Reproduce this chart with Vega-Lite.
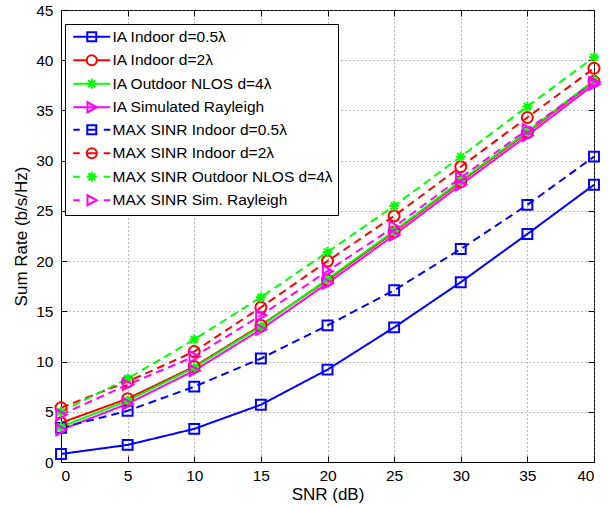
{
  "$schema": "https://vega.github.io/schema/vega-lite/v6.json",
  "width": 533,
  "height": 452,
  "autosize": "none",
  "padding": {"left": 61, "top": 10, "right": 15, "bottom": 44},
  "background": "white",
  "config": {
    "view": {"stroke": "black", "strokeWidth": 1},
    "font": "Liberation Sans",
    "axis": {
      "labelFont": "Liberation Sans",
      "labelFontSize": 15.5,
      "labelColor": "black",
      "titleFont": "Liberation Sans",
      "titleFontSize": 17,
      "titleFontWeight": "normal",
      "titleColor": "black",
      "domainColor": "black",
      "tickColor": "black",
      "tickWidth": 1,
      "gridColor": "#777777",
      "gridDash": [1, 3],
      "gridOpacity": 1
    },
    "legend": {
      "title": null,
      "titleFontSize": 0,
      "titlePadding": 0,
      "orient": "none",
      "legendX": 4,
      "legendY": 14,
      "padding": 5,
      "strokeColor": "black",
      "fillColor": "white",
      "symbolSize": 100,
      "symbolStrokeWidth": 2,
      "symbolOffset": 14,
      "labelOffset": 13,
      "rowPadding": 4.5,
      "labelFont": "Liberation Sans",
      "labelFontSize": 15.5,
      "labelColor": "black",
      "labelLimit": 400
    }
  },
  "data": {
    "values": [
      {"snr": 0, "rate": 0.8, "series": "IA Indoor d=0.5λ"},
      {"snr": 5, "rate": 1.7, "series": "IA Indoor d=0.5λ"},
      {"snr": 10, "rate": 3.3, "series": "IA Indoor d=0.5λ"},
      {"snr": 15, "rate": 5.7, "series": "IA Indoor d=0.5λ"},
      {"snr": 20, "rate": 9.2, "series": "IA Indoor d=0.5λ"},
      {"snr": 25, "rate": 13.4, "series": "IA Indoor d=0.5λ"},
      {"snr": 30, "rate": 17.9, "series": "IA Indoor d=0.5λ"},
      {"snr": 35, "rate": 22.7, "series": "IA Indoor d=0.5λ"},
      {"snr": 40, "rate": 27.6, "series": "IA Indoor d=0.5λ"},
      {"snr": 0, "rate": 3.9, "series": "IA Indoor d=2λ"},
      {"snr": 5, "rate": 6.3, "series": "IA Indoor d=2λ"},
      {"snr": 10, "rate": 9.5, "series": "IA Indoor d=2λ"},
      {"snr": 15, "rate": 13.6, "series": "IA Indoor d=2λ"},
      {"snr": 20, "rate": 18.1, "series": "IA Indoor d=2λ"},
      {"snr": 25, "rate": 22.9, "series": "IA Indoor d=2λ"},
      {"snr": 30, "rate": 27.9, "series": "IA Indoor d=2λ"},
      {"snr": 35, "rate": 32.8, "series": "IA Indoor d=2λ"},
      {"snr": 40, "rate": 37.9, "series": "IA Indoor d=2λ"},
      {"snr": 0, "rate": 3.5, "series": "IA Outdoor NLOS d=4λ"},
      {"snr": 5, "rate": 6.1, "series": "IA Outdoor NLOS d=4λ"},
      {"snr": 10, "rate": 9.4, "series": "IA Outdoor NLOS d=4λ"},
      {"snr": 15, "rate": 13.5, "series": "IA Outdoor NLOS d=4λ"},
      {"snr": 20, "rate": 18.2, "series": "IA Outdoor NLOS d=4λ"},
      {"snr": 25, "rate": 23.0, "series": "IA Outdoor NLOS d=4λ"},
      {"snr": 30, "rate": 28.0, "series": "IA Outdoor NLOS d=4λ"},
      {"snr": 35, "rate": 32.9, "series": "IA Outdoor NLOS d=4λ"},
      {"snr": 40, "rate": 38.0, "series": "IA Outdoor NLOS d=4λ"},
      {"snr": 0, "rate": 3.2, "series": "IA Simulated Rayleigh"},
      {"snr": 5, "rate": 5.8, "series": "IA Simulated Rayleigh"},
      {"snr": 10, "rate": 9.1, "series": "IA Simulated Rayleigh"},
      {"snr": 15, "rate": 13.2, "series": "IA Simulated Rayleigh"},
      {"snr": 20, "rate": 17.8, "series": "IA Simulated Rayleigh"},
      {"snr": 25, "rate": 22.6, "series": "IA Simulated Rayleigh"},
      {"snr": 30, "rate": 27.6, "series": "IA Simulated Rayleigh"},
      {"snr": 35, "rate": 32.5, "series": "IA Simulated Rayleigh"},
      {"snr": 40, "rate": 37.6, "series": "IA Simulated Rayleigh"},
      {"snr": 0, "rate": 3.4, "series": "MAX SINR Indoor d=0.5λ"},
      {"snr": 5, "rate": 5.1, "series": "MAX SINR Indoor d=0.5λ"},
      {"snr": 10, "rate": 7.5, "series": "MAX SINR Indoor d=0.5λ"},
      {"snr": 15, "rate": 10.3, "series": "MAX SINR Indoor d=0.5λ"},
      {"snr": 20, "rate": 13.6, "series": "MAX SINR Indoor d=0.5λ"},
      {"snr": 25, "rate": 17.1, "series": "MAX SINR Indoor d=0.5λ"},
      {"snr": 30, "rate": 21.2, "series": "MAX SINR Indoor d=0.5λ"},
      {"snr": 35, "rate": 25.6, "series": "MAX SINR Indoor d=0.5λ"},
      {"snr": 40, "rate": 30.4, "series": "MAX SINR Indoor d=0.5λ"},
      {"snr": 0, "rate": 5.4, "series": "MAX SINR Indoor d=2λ"},
      {"snr": 5, "rate": 8.0, "series": "MAX SINR Indoor d=2λ"},
      {"snr": 10, "rate": 11.0, "series": "MAX SINR Indoor d=2λ"},
      {"snr": 15, "rate": 15.4, "series": "MAX SINR Indoor d=2λ"},
      {"snr": 20, "rate": 20.0, "series": "MAX SINR Indoor d=2λ"},
      {"snr": 25, "rate": 24.5, "series": "MAX SINR Indoor d=2λ"},
      {"snr": 30, "rate": 29.4, "series": "MAX SINR Indoor d=2λ"},
      {"snr": 35, "rate": 34.3, "series": "MAX SINR Indoor d=2λ"},
      {"snr": 40, "rate": 39.2, "series": "MAX SINR Indoor d=2λ"},
      {"snr": 0, "rate": 5.0, "series": "MAX SINR Outdoor NLOS d=4λ"},
      {"snr": 5, "rate": 8.3, "series": "MAX SINR Outdoor NLOS d=4λ"},
      {"snr": 10, "rate": 12.2, "series": "MAX SINR Outdoor NLOS d=4λ"},
      {"snr": 15, "rate": 16.4, "series": "MAX SINR Outdoor NLOS d=4λ"},
      {"snr": 20, "rate": 20.9, "series": "MAX SINR Outdoor NLOS d=4λ"},
      {"snr": 25, "rate": 25.5, "series": "MAX SINR Outdoor NLOS d=4λ"},
      {"snr": 30, "rate": 30.4, "series": "MAX SINR Outdoor NLOS d=4λ"},
      {"snr": 35, "rate": 35.4, "series": "MAX SINR Outdoor NLOS d=4λ"},
      {"snr": 40, "rate": 40.3, "series": "MAX SINR Outdoor NLOS d=4λ"},
      {"snr": 0, "rate": 4.7, "series": "MAX SINR Sim. Rayleigh"},
      {"snr": 5, "rate": 7.7, "series": "MAX SINR Sim. Rayleigh"},
      {"snr": 10, "rate": 10.5, "series": "MAX SINR Sim. Rayleigh"},
      {"snr": 15, "rate": 14.6, "series": "MAX SINR Sim. Rayleigh"},
      {"snr": 20, "rate": 19.0, "series": "MAX SINR Sim. Rayleigh"},
      {"snr": 25, "rate": 23.4, "series": "MAX SINR Sim. Rayleigh"},
      {"snr": 30, "rate": 28.3, "series": "MAX SINR Sim. Rayleigh"},
      {"snr": 35, "rate": 33.1, "series": "MAX SINR Sim. Rayleigh"},
      {"snr": 40, "rate": 37.8, "series": "MAX SINR Sim. Rayleigh"}
    ]
  },
  "resolve": {"axis": {"x": "independent", "y": "independent"}},
  "layer": [
    {
      "mark": {"type": "line", "strokeWidth": 2},
      "encoding": {
        "x": {"field": "snr", "type": "quantitative", "scale": {"domain": [0, 40], "nice": false},
              "axis": {"orient": "bottom", "values": [0,5,10,15,20,25,30,35,40], "grid": true, "ticks": false, "labelPadding": 6, "title": "SNR (dB)", "titlePadding": 3}},
        "y": {"field": "rate", "type": "quantitative", "scale": {"domain": [0, 45], "nice": false},
              "axis": {"orient": "left", "values": [0,5,10,15,20,25,30,35,40,45], "grid": true, "ticks": false, "labelPadding": 8, "title": "Sum Rate (b/s/Hz)", "titlePadding": 5}},
        "color": {"field": "series", "type": "nominal",
                  "scale": {"domain": ["IA Indoor d=0.5λ","IA Indoor d=2λ","IA Outdoor NLOS d=4λ","IA Simulated Rayleigh","MAX SINR Indoor d=0.5λ","MAX SINR Indoor d=2λ","MAX SINR Outdoor NLOS d=4λ","MAX SINR Sim. Rayleigh"],
                            "range": ["#0000ff","#ff0000","#00ff00","#ff00ff","#0000ff","#ff0000","#00ff00","#ff00ff"]}},
        "strokeDash": {"field": "series", "type": "nominal", "legend": null,
                  "scale": {"domain": ["MAX SINR Indoor d=0.5λ","MAX SINR Indoor d=2λ","MAX SINR Outdoor NLOS d=4λ","MAX SINR Sim. Rayleigh","IA Indoor d=0.5λ","IA Indoor d=2λ","IA Outdoor NLOS d=4λ","IA Simulated Rayleigh"],
                            "range": [[8,5],[8,5],[8,5],[8,5],[1,0],[1,0],[1,0],[1,0]]}}
      }
    },
    {
      "transform": [{"filter": "indexof(datum.series, 'd=0.5') >= 0"}],
      "mark": {"type": "point", "shape": "M-0.9,-0.9H0.9V0.9H-0.9Z", "size": 121, "filled": false, "strokeWidth": 2, "color": "#0000ff", "opacity": 1},
      "encoding": {
        "x": {"field": "snr", "type": "quantitative",
              "axis": {"orient": "bottom", "offset": -6, "tickSize": 6, "values": [0,5,10,15,20,25,30,35,40], "labels": false, "grid": false, "domain": false, "title": null}},
        "y": {"field": "rate", "type": "quantitative",
              "axis": {"orient": "left", "offset": -6, "tickSize": 6, "values": [0,5,10,15,20,25,30,35,40,45], "labels": false, "grid": false, "domain": false, "title": null}}
      }
    },
    {
      "transform": [{"filter": "indexof(datum.series, 'd=2') >= 0"}],
      "mark": {"type": "point", "shape": "circle", "size": 121, "filled": false, "strokeWidth": 2, "color": "#ff0000", "opacity": 1},
      "encoding": {
        "x": {"field": "snr", "type": "quantitative", "axis": null},
        "y": {"field": "rate", "type": "quantitative", "axis": null}
      }
    },
    {
      "transform": [{"filter": "indexof(datum.series, 'NLOS') >= 0"}],
      "mark": {"type": "point", "shape": "M0,-1V1M-1,0H1M-0.7,-0.7L0.7,0.7M-0.7,0.7L0.7,-0.7", "size": 100, "filled": false, "strokeWidth": 2, "color": "#00ff00", "opacity": 1},
      "encoding": {
        "x": {"field": "snr", "type": "quantitative", "axis": null},
        "y": {"field": "rate", "type": "quantitative", "axis": null}
      }
    },
    {
      "transform": [{"filter": "indexof(datum.series, 'Rayleigh') >= 0"}],
      "mark": {"type": "point", "shape": "M-0.85,-1L1,0L-0.85,1Z", "size": 121, "filled": false, "strokeWidth": 2, "color": "#ff00ff", "opacity": 1},
      "encoding": {
        "x": {"field": "snr", "type": "quantitative", "axis": null},
        "y": {"field": "rate", "type": "quantitative", "axis": null}
      }
    },
    {
      "transform": [{"filter": "datum.snr < 0"}],
      "mark": {"type": "point", "filled": false, "strokeWidth": 2, "opacity": 1},
      "encoding": {
        "x": {"field": "snr", "type": "quantitative",
              "axis": {"orient": "top", "offset": -6, "tickSize": 6, "values": [0,5,10,15,20,25,30,35,40], "labels": false, "grid": false, "title": null, "domain": false}},
        "y": {"field": "rate", "type": "quantitative",
              "axis": {"orient": "right", "offset": -6, "tickSize": 6, "values": [0,5,10,15,20,25,30,35,40,45], "labels": false, "grid": false, "title": null, "domain": false}},
        "color": {"field": "series", "type": "nominal"},
        "shape": {"field": "series", "type": "nominal",
                  "legend": {"title": null, "orient": "none", "legendX": 4, "legendY": 14},
                  "scale": {"domain": ["IA Indoor d=0.5λ","IA Indoor d=2λ","IA Outdoor NLOS d=4λ","IA Simulated Rayleigh","MAX SINR Indoor d=0.5λ","MAX SINR Indoor d=2λ","MAX SINR Outdoor NLOS d=4λ","MAX SINR Sim. Rayleigh"],
                            "range": [
                              "M-3.7,0H3.7M-0.9,-0.9H0.9V0.9H-0.9Z",
                              "M-3.7,0H-1M1,0H3.7M1,0A1,1 0 1,1 -1,0A1,1 0 1,1 1,0",
                              "M-3.7,0H3.7M0,-1V1M-0.7,-0.7L0.7,0.7M-0.7,0.7L0.7,-0.7",
                              "M-3.7,0H3.7M-0.85,-1L1,0L-0.85,1Z",
                              "M-3.7,0H-2.4M2.4,0H3.7M-0.9,0H0.9M-0.9,-0.9H0.9V0.9H-0.9Z",
                              "M-3.7,0H-2.4M2.4,0H3.7M-1,0H1M1,0A1,1 0 1,1 -1,0A1,1 0 1,1 1,0",
                              "M-3.7,0H-2.4M2.4,0H3.7M0,-1V1M-1,0H1M-0.7,-0.7L0.7,0.7M-0.7,0.7L0.7,-0.7",
                              "M-3.7,0H-2.4M2.4,0H3.7M-0.85,-1L1,0L-0.85,1Z"
                            ]}}
      }
    }
  ]
}
